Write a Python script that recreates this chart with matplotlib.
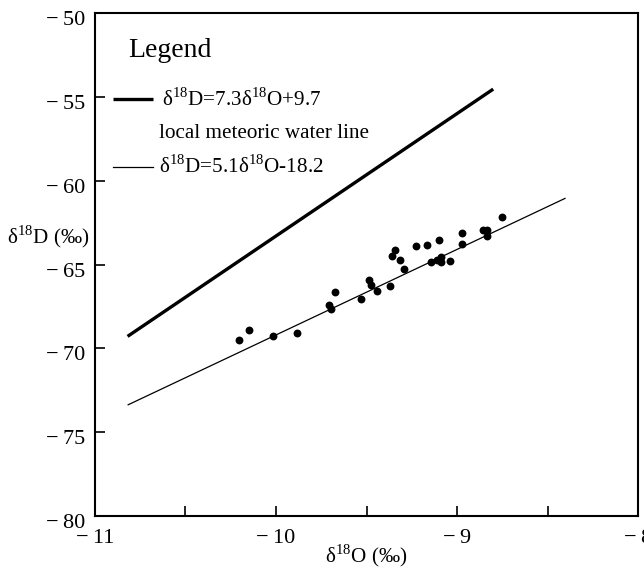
import numpy as np
import matplotlib
matplotlib.use("Agg")
import matplotlib.pyplot as plt
from matplotlib.ticker import MultipleLocator, FuncFormatter
from matplotlib.transforms import ScaledTranslation

plt.rcParams['font.family'] = ['Liberation Serif', 'DejaVu Serif']
plt.rcParams['mathtext.fontset'] = 'custom'
plt.rcParams['mathtext.rm'] = 'Liberation Serif'

# sample points (d18O, dD)
d18o = [-10.207, -10.150, -10.015, -9.884, -9.707, -9.696, -9.675, -9.533,
        -9.487, -9.477, -9.441, -9.372, -9.359, -9.344, -9.315, -9.293,
        -9.228, -9.164, -9.145, -9.097, -9.108, -9.086, -9.086, -9.036,
        -8.973, -8.971, -8.859, -8.834, -8.834, -8.749]
dD = [-69.50, -68.91, -69.27, -69.07, -67.41, -67.63, -66.65, -67.07,
      -65.94, -66.24, -66.57, -66.26, -64.51, -64.12, -64.75, -65.27,
      -63.88, -63.86, -64.85, -63.56, -64.75, -64.55, -64.83, -64.79,
      -63.15, -63.78, -62.97, -62.95, -63.31, -62.16]

# fitted lines: slope, intercept, x range
lmwl = (7.3, 9.7, (-10.82, -8.80))
fit = (5.1, -18.2, (-10.82, -8.40))

fig = plt.figure(figsize=(6.44, 5.68), dpi=100)
ax = fig.add_axes([0.1475, 0.0915, 0.8432, 0.8856])

for (k, b, (x0, x1)), lw in [(lmwl, 2.4), (fit, 0.9)]:
    xs = np.array([x0, x1])
    ax.plot(xs, k * xs + b, color='black', lw=lw, solid_capstyle='butt')

ax.scatter(d18o, dD, s=32, color='black', zorder=3, linewidths=0)

ax.set_xlim(-11, -8)
ax.set_ylim(-80, -50)
ax.xaxis.set_major_locator(MultipleLocator(1))
ax.xaxis.set_minor_locator(MultipleLocator(0.5))
ax.yaxis.set_major_locator(MultipleLocator(5))
fmt = FuncFormatter(lambda v, p: ('\u2212\u2009%d' % abs(v)) if v < 0 else '%d' % v)
ax.xaxis.set_major_formatter(fmt)
ax.yaxis.set_major_formatter(fmt)
ax.tick_params(which='both', direction='in', length=7, width=1.2,
               labelsize=16, top=False, right=False)
ax.tick_params(axis='x', pad=9)
ax.tick_params(axis='y', pad=7)
shift = ScaledTranslation(0, -5 / 100, fig.dpi_scale_trans)
for lab in ax.get_yticklabels():
    lab.set_transform(lab.get_transform() + shift)
for s in ax.spines.values():
    s.set_linewidth(1.5)

ax.set_xlabel(r'δ$^{18}$O (‰)', fontsize=15.2, labelpad=-4)
ax.set_ylabel(r'δ$^{18}$D (‰)', fontsize=15.2, rotation=0, ha='center', va='center')
ax.yaxis.set_label_coords(-0.0866, 0.555)

# legend block
ax.text(0.061, 0.926, 'Legend', transform=ax.transAxes, fontsize=20, va='center')
ax.plot([0.033, 0.107], [0.829, 0.829], transform=ax.transAxes, color='black', lw=2.4,
        solid_capstyle='butt')
ax.text(0.123, 0.829, r'δ$^{18}$D=7.3δ$^{18}$O+9.7', transform=ax.transAxes,
        fontsize=15.2, va='center')
ax.text(0.118, 0.761, 'local meteoric water line', transform=ax.transAxes,
        fontsize=15.2, va='center')
ax.plot([0.033, 0.107], [0.694, 0.694], transform=ax.transAxes, color='black', lw=0.9)
ax.text(0.118, 0.694, r'δ$^{18}$D=5.1δ$^{18}$O-18.2', transform=ax.transAxes,
        fontsize=15.2, va='center')

fig.savefig('out.png', dpi=100)
